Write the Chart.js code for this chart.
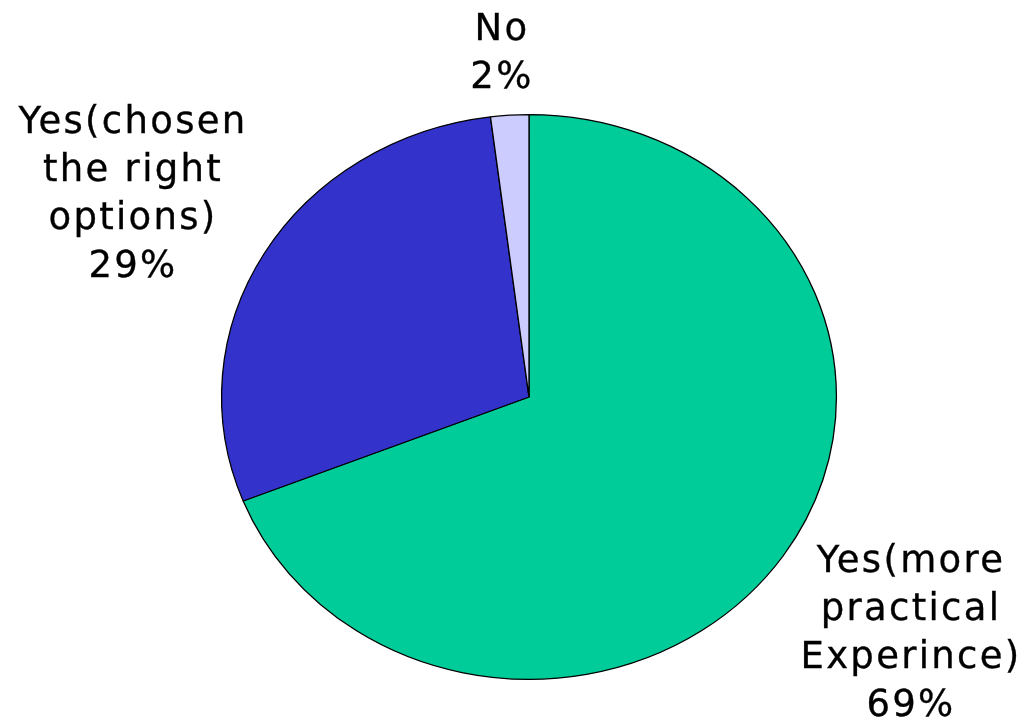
<!DOCTYPE html>
<html>
<head>
<meta charset="utf-8">
<script src="https://cdn.jsdelivr.net/npm/chart.js@4.4.0/dist/chart.umd.min.js"></script>
<style>
  html, body { margin: 0; padding: 0; background: #fff; }
  #wrap { width: 1026px; height: 725px; }
</style>
</head>
<body>
<div id="wrap"><canvas id="pie"></canvas></div>
<script>
// data
const categories = ['Yes(more practical Experince)', 'Yes(chosen the right options)', 'No'];
const labelLines = [
    ['Yes(more', 'practical', 'Experince)'],
    ['Yes(chosen', 'the right', 'options)'],
    ['No']
];
const percents = [69, 29, 2];
const colors = ['#00CC99', '#3333CC', '#CCCCFF'];

// where each label block sits (center x, first baseline)
const labelPos = [
    { x: 911, y: 572 },
    { x: 133, y: 133 },
    { x: 502, y: 40 }
];

// pie in the picture is a bit wider than tall
const stretch = {
    id: 'stretch',
    beforeDatasetsDraw(chart) {
        const arc = chart.getDatasetMeta(0).data[0];
        const ctx = chart.ctx;
        ctx.save();
        ctx.translate(arc.x, arc.y);
        ctx.scale(307 / 282, 1);
        ctx.translate(-arc.x, -arc.y);
    },
    afterDatasetsDraw(chart) {
        chart.ctx.restore();
    }
};

const pieLabels = {
    id: 'pieLabels',
    afterDraw(chart) {
        const ctx = chart.ctx;
        ctx.save();
        ctx.font = '37px "DejaVu Sans"';
        ctx.letterSpacing = '2.3px';
        ctx.fillStyle = '#000';
        ctx.strokeStyle = '#000';
        ctx.lineWidth = 0.35;
        ctx.textAlign = 'center';
        ctx.textBaseline = 'alphabetic';
        labelLines.forEach((lines, i) => {
            const all = lines.concat([percents[i] + '%']);
            all.forEach((t, j) => {
                const y = labelPos[i].y + j * 48;
                ctx.fillText(t, labelPos[i].x, y);
                ctx.strokeText(t, labelPos[i].x, y);
            });
        });
        ctx.restore();
    }
};

new Chart(document.getElementById('pie'), {
    type: 'pie',
    data: {
        labels: categories,
        datasets: [{
            data: percents,
            backgroundColor: colors,
            borderColor: '#000',
            borderWidth: 1.2
        }]
    },
    options: {
        responsive: true,
        maintainAspectRatio: false,
        animation: false,
        layout: { padding: { top: 114, bottom: 45, left: 200, right: 168 } },
        plugins: {
            legend: { display: false },
            tooltip: { enabled: false }
        }
    },
    plugins: [stretch, pieLabels]
});
</script>
</body>
</html>
